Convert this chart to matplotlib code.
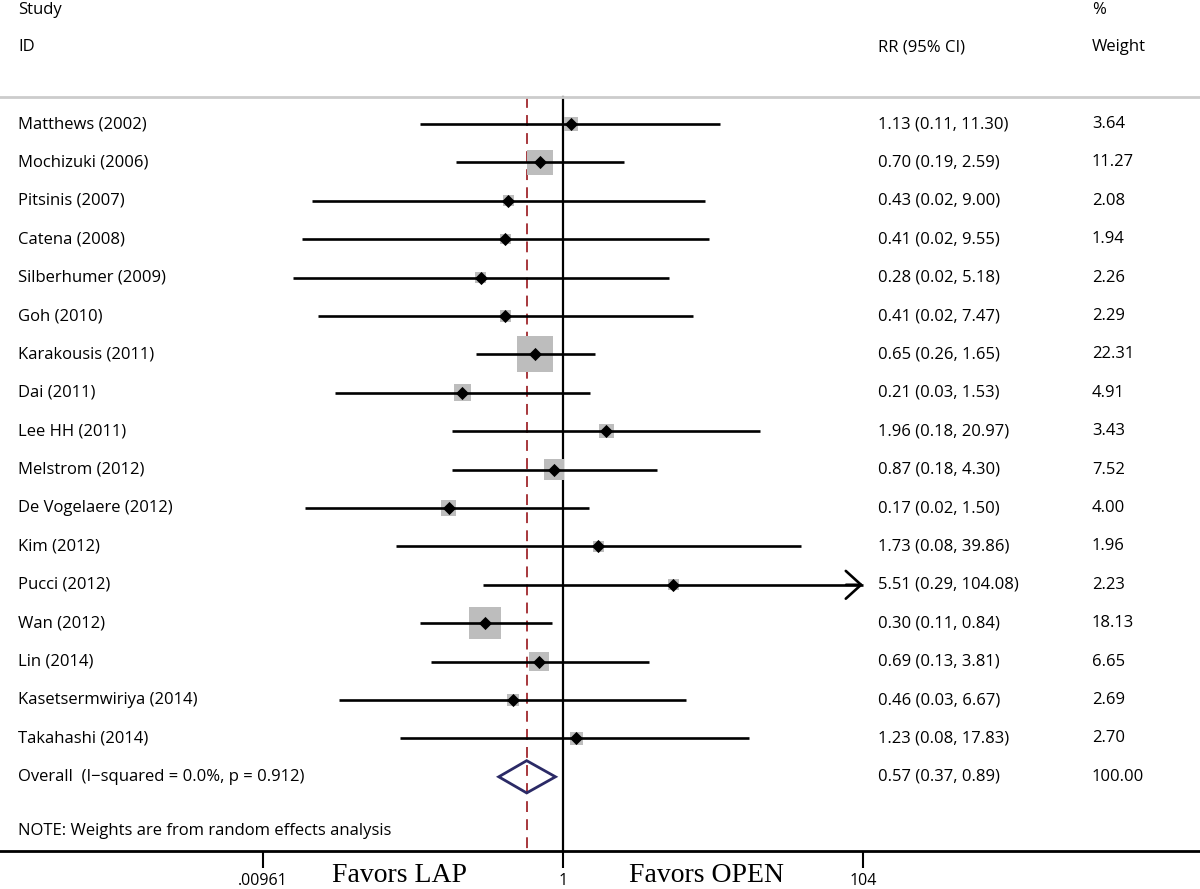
import numpy as np
import matplotlib
matplotlib.use("Agg")
from matplotlib import pyplot as plt
from matplotlib.patches import Polygon

studies = ["Matthews (2002)", "Mochizuki (2006)", "Pitsinis (2007)", "Catena (2008)",
           "Silberhumer (2009)", "Goh (2010)", "Karakousis (2011)", "Dai (2011)",
           "Lee HH (2011)", "Melstrom (2012)", "De Vogelaere (2012)", "Kim (2012)",
           "Pucci (2012)", "Wan (2012)", "Lin (2014)", "Kasetsermwiriya (2014)",
           "Takahashi (2014)"]
rr = [1.13, 0.70, 0.43, 0.41, 0.28, 0.41, 0.65, 0.21, 1.96, 0.87, 0.17, 1.73, 5.51, 0.30, 0.69, 0.46, 1.23]
# lower bounds (labels show them rounded)
ci_lo = [0.11, 0.19, 0.0205, 0.0176, 0.0152, 0.0225, 0.26, 0.0293, 0.18, 0.18, 0.0184, 0.0752, 0.29, 0.11, 0.13, 0.0312, 0.08]
ci_hi = [11.30, 2.59, 9.00, 9.55, 5.18, 7.47, 1.65, 1.53, 20.97, 4.30, 1.50, 39.86, 104.08, 0.84, 3.81, 6.67, 17.83]
weights = [3.64, 11.27, 2.08, 1.94, 2.26, 2.29, 22.31, 4.91, 3.43, 7.52, 4.00, 1.96, 2.23, 18.13, 6.65, 2.69, 2.70]

overall_label = "Overall  (I\u2212squared = 0.0%, p = 0.912)"
overall_rr, overall_lo, overall_hi = 0.57, 0.37, 0.89
overall_weight = "100.00"
note = "NOTE: Weights are from random effects analysis"
xticks = [0.00961, 1, 104]
xtick_labels = [".00961", "1", "104"]

plt.rcParams["font.family"] = ["Open Sans", "DejaVu Sans"]
fig = plt.figure(figsize=(12, 8.89), dpi=100)
ax = fig.add_axes([0, 1 - 851 / 889, 1, 851 / 889])

# log scale, 1 at x=563px, ~64.6 px per ln unit
ax.set_xscale("log")
ax.set_xlim(np.exp(-563 / 64.6), np.exp((1200 - 563) / 64.6))
ax.set_ylim((851 - 124) / 38.4, -124 / 38.4)

n = len(studies)
rows = np.arange(n)
xmax = xticks[-1]
fs = 12
col_name, col_ci, col_w = 18 / 1200, 878 / 1200, 1092 / 1200

for i in rows:
    hi = min(ci_hi[i], xmax)
    ax.plot([ci_lo[i], hi], [i, i], color="black", lw=1.9, zorder=3, solid_capstyle="butt")
    if ci_hi[i] > xmax:
        ax.annotate("", xy=(hi, i), xytext=(hi / 1.3, i),
                    arrowprops=dict(arrowstyle="->,head_length=0.55,head_width=0.5",
                                    lw=1.9, color="black", mutation_scale=20,
                                    shrinkA=0, shrinkB=0), zorder=3)

ax.scatter(rr, rows, s=np.array(weights) * 30, marker="s", color="#bdbdbd", zorder=2, linewidths=0)
ax.scatter(rr, rows, s=45, marker="D", color="black", zorder=4, linewidths=0)

# overall diamond
yo = n
h = 0.42
diamond = Polygon([(overall_lo, yo), (overall_rr, yo - h), (overall_hi, yo), (overall_rr, yo + h)],
                  closed=True, fill=False, edgecolor="#2b2a66", lw=2, zorder=5)
ax.add_patch(diamond)

# reference lines
top = (97 - 124) / 38.4
bottom = ax.get_ylim()[0]
ax.plot([1, 1], [top, bottom], color="black", lw=1.6, zorder=1)
ax.plot([overall_rr, overall_rr], [top, bottom], color="#a0282d", lw=1.3,
        dashes=(6, 4), zorder=1)
ax.axhline(top, color="#cccccc", lw=2, zorder=1)

# text columns
tr = ax.get_yaxis_transform()
for i, name in enumerate(studies):
    ax.text(col_name, i, name, transform=tr, va="center", ha="left", fontsize=fs)
    ax.text(col_ci, i, "%.2f (%.2f, %.2f)" % (rr[i], ci_lo[i], ci_hi[i]),
            transform=tr, va="center", ha="left", fontsize=fs)
    ax.text(col_w, i, "%.2f" % weights[i], transform=tr, va="center", ha="left", fontsize=fs)

ax.text(col_name, yo, overall_label, transform=tr, va="center", ha="left", fontsize=fs)
ax.text(col_ci, yo, "%.2f (%.2f, %.2f)" % (overall_rr, overall_lo, overall_hi),
        transform=tr, va="center", ha="left", fontsize=fs)
ax.text(col_w, yo, overall_weight, transform=tr, va="center", ha="left", fontsize=fs)
ax.text(col_name, (831 - 124) / 38.4, note, transform=tr, va="center", ha="left", fontsize=fs)

# headers
ax.text(col_name, (10 - 124) / 38.4, "Study", transform=tr, va="center", ha="left", fontsize=fs)
ax.text(col_name, (47 - 124) / 38.4, "ID", transform=tr, va="center", ha="left", fontsize=fs)
ax.text(col_ci, (47 - 124) / 38.4, "RR (95% CI)", transform=tr, va="center", ha="left", fontsize=fs)
ax.text(col_w, (10 - 124) / 38.4, "%", transform=tr, va="center", ha="left", fontsize=fs)
ax.text(col_w, (47 - 124) / 38.4, "Weight", transform=tr, va="center", ha="left", fontsize=fs)

# x axis
for s in ["top", "left", "right"]:
    ax.spines[s].set_visible(False)
ax.spines["bottom"].set_linewidth(2)
ax.set_yticks([])
ax.set_xticks(xticks)
ax.set_xticklabels(xtick_labels, fontsize=11.5)
ax.minorticks_off()
ax.tick_params(axis="x", direction="out", length=12, width=1.5, pad=4)

fig.text(400 / 1200, 1 - 876 / 889, "Favors LAP", ha="center", va="center",
         fontsize=20, family="Liberation Serif")
fig.text(707 / 1200, 1 - 876 / 889, "Favors OPEN", ha="center", va="center",
         fontsize=20, family="Liberation Serif")

fig.savefig("out.png", dpi=100)
